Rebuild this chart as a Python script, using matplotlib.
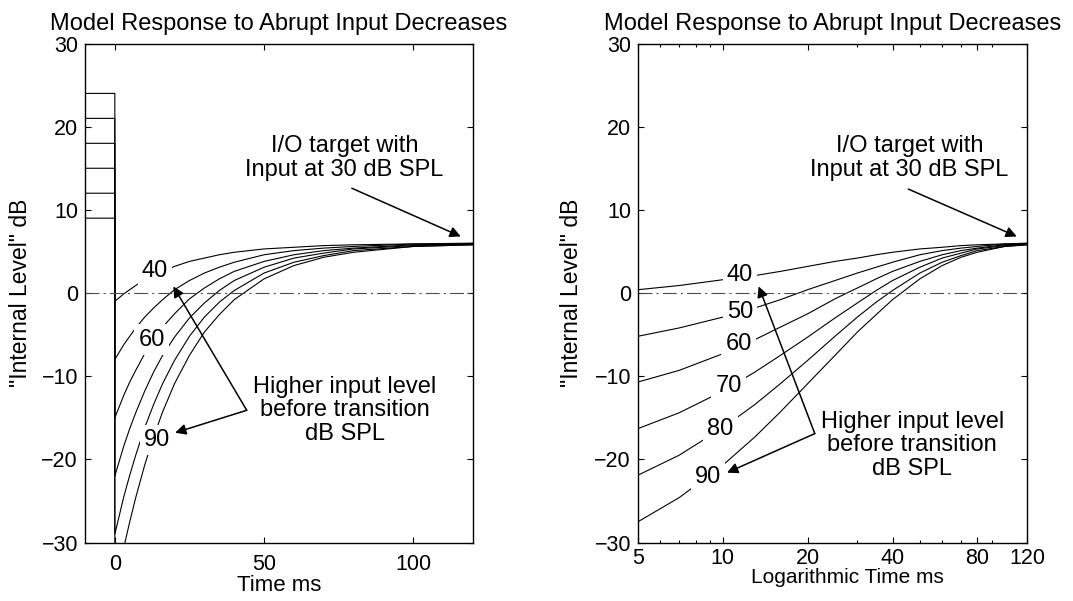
import matplotlib.pyplot as plt
from matplotlib.ticker import FixedLocator, FixedFormatter, LogLocator, NullFormatter

plt.rcParams['font.family'] = ['Liberation Sans', 'DejaVu Sans']
plt.rcParams['lines.scale_dashes'] = False
plt.rcParams['axes.linewidth'] = 1.0

# input level before the transition (dB SPL) and the level held before t = 0
input_levels = [40, 50, 60, 70, 80, 90]
pre_levels = [9, 12, 15, 18, 21, 24]

# model response after the abrupt decrease
time_ms = [0, 2, 3, 5, 7, 10, 13, 16, 20, 25, 30, 35, 40, 50, 60, 70, 80, 100, 120]
level_40 = [-1.0, -0.4, -0.1, 0.4, 0.9, 1.6, 2.1, 2.6, 3.2, 3.8, 4.2, 4.6, 4.9, 5.3, 5.5, 5.7, 5.8, 5.9, 6.0]
level_50 = [-8.0, -6.8, -6.2, -5.2, -4.2, -2.9, -1.8, -0.8, 0.4, 1.5, 2.4, 3.1, 3.7, 4.6, 5.1, 5.4, 5.6, 5.9, 5.9]
level_60 = [-15.0, -13.2, -12.3, -10.7, -9.3, -7.3, -5.6, -4.1, -2.5, -0.7, 0.6, 1.7, 2.6, 3.8, 4.6, 5.1, 5.4, 5.8, 5.9]
level_70 = [-22.0, -19.6, -18.4, -16.3, -14.4, -11.8, -9.5, -7.5, -5.3, -3.0, -1.2, 0.3, 1.5, 3.1, 4.2, 4.8, 5.3, 5.7, 5.9]
level_80 = [-29.0, -26.0, -24.5, -21.9, -19.5, -16.2, -13.4, -10.9, -8.1, -5.2, -2.9, -1.1, 0.3, 2.4, 3.7, 4.5, 5.1, 5.6, 5.8]
level_90 = [-36.0, -32.4, -30.6, -27.5, -24.6, -20.7, -17.3, -14.3, -10.9, -7.5, -4.7, -2.6, -0.8, 1.7, 3.3, 4.3, 4.9, 5.6, 5.8]
curves = [level_40, level_50, level_60, level_70, level_80, level_90]

log_ticks = [5, 10, 20, 40, 80, 120]

title = 'Model Response to Abrupt Input Decreases'
ylab = '"Internal Level" dB'
io_text = 'I/O target with\nInput at 30 dB SPL'
hi_text = 'Higher input level\nbefore transition\ndB SPL'

fig = plt.figure(figsize=(10.73, 6.01), dpi=100)
ax1 = fig.add_axes([0.0792, 0.0973, 0.3616, 0.8303])
ax2 = fig.add_axes([0.5946, 0.0973, 0.3625, 0.8303])

dashdot = (0, (10, 3, 1.5, 3))
box = dict(fc='white', ec='none', pad=3)
arrow = dict(arrowstyle='-|>', color='k', lw=1.1, mutation_scale=16,
             shrinkA=0, shrinkB=0)

# ---- left: linear time ----
for pre, vals in zip(pre_levels, curves):
    ax1.plot([-10, 0] + time_ms, [pre, pre] + vals, color='k', lw=0.8)
ax1.axhline(0, color='0.3', lw=0.8, ls=dashdot)
ax1.set_xlim(-10, 120)
ax1.set_ylim(-30, 30)
ax1.set_xticks([0, 50, 100])
ax1.set_yticks(range(-30, 31, 10))

left_labels = {40: (13.5, 2.7), 60: (12.4, -5.6), 90: (14.2, -17.7)}
for lev, (x, y) in left_labels.items():
    ax1.text(x, y, str(lev), fontsize=17, ha='center', va='center', bbox=box)

ax1.text(77, 16.2, io_text, fontsize=17, ha='center', va='center', linespacing=1.1)
ax1.annotate('', xy=(115.9, 6.8), xytext=(79.4, 12.6), arrowprops=arrow)
ax1.text(77, -14.1, hi_text, fontsize=17, ha='center', va='center', linespacing=1.1)
ax1.annotate('', xy=(19.6, 0.8), xytext=(44.2, -14.1), arrowprops=arrow)
ax1.annotate('', xy=(20.2, -16.8), xytext=(44.2, -14.1), arrowprops=arrow)

ax1.set_xlabel('Time ms', fontsize=16)
ax1.xaxis.set_label_coords(0.5, -0.066)

# ---- right: logarithmic time ----
for vals in curves:
    ax2.plot(time_ms[1:], vals[1:], color='k', lw=0.8)
ax2.axhline(0, color='0.3', lw=0.8, ls=dashdot)
ax2.set_xscale('log')
ax2.set_xlim(5, 120)
ax2.set_ylim(-30, 30)
ax2.xaxis.set_major_locator(FixedLocator(log_ticks))
ax2.xaxis.set_major_formatter(FixedFormatter([str(t) for t in log_ticks]))
ax2.xaxis.set_minor_locator(LogLocator(base=10, subs=range(2, 10)))
ax2.xaxis.set_minor_formatter(NullFormatter())
ax2.set_yticks(range(-30, 31, 10))

right_labels = {40: (11.5, 2.2), 50: (11.5, -2.3), 60: (11.4, -6.1),
                70: (10.5, -11.2), 80: (9.8, -16.3), 90: (8.85, -22.1)}
for lev, (x, y) in right_labels.items():
    ax2.text(x, y, str(lev), fontsize=17, ha='center', va='center', bbox=box)

ax2.text(46, 16.2, io_text, fontsize=17, ha='center', va='center', linespacing=1.1)
ax2.annotate('', xy=(110.4, 6.8), xytext=(45.5, 12.5), arrowprops=arrow)
ax2.text(47, -18.3, hi_text, fontsize=17, ha='center', va='center', linespacing=1.1)
ax2.annotate('', xy=(13.4, 0.8), xytext=(21.2, -16.9), arrowprops=arrow)
ax2.annotate('', xy=(10.35, -21.6), xytext=(21.2, -16.9), arrowprops=arrow)

ax2.set_xlabel('Logarithmic Time ms', fontsize=15)
ax2.xaxis.set_label_coords(0.539, -0.052)

for ax in (ax1, ax2):
    ax.tick_params(which='both', direction='in', top=True, right=True,
                   width=0.8, labelsize=15.5)
    ax.tick_params(which='major', length=4.5)
    ax.tick_params(which='minor', length=2.5)
    ax.tick_params(axis='y', pad=5)
    ax.set_title(title, fontsize=17, pad=10)
    ax.set_ylabel(ylab, fontsize=16.5)
ax1.yaxis.set_label_coords(-0.137, 0.5)
ax2.yaxis.set_label_coords(-0.141, 0.5)
ax1.tick_params(axis='x', pad=8)
ax2.tick_params(axis='x', pad=4)

fig.savefig('out.png', dpi=100)
